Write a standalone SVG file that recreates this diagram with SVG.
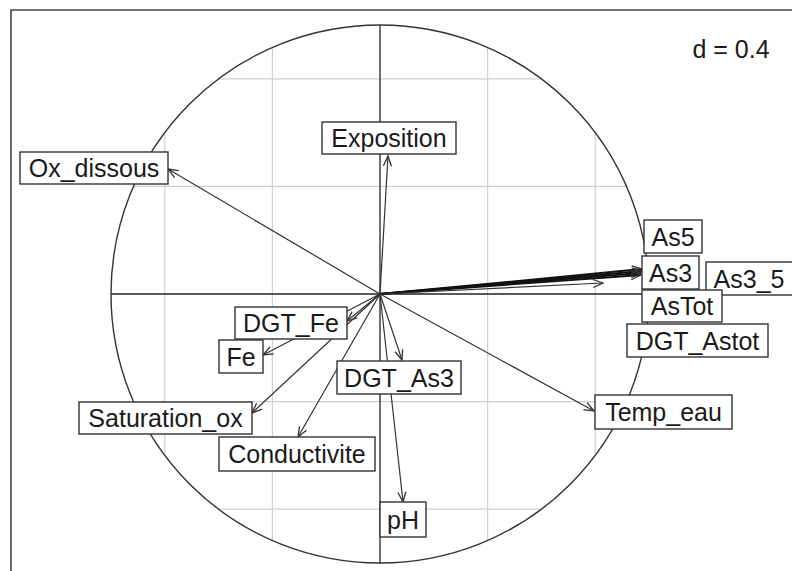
<svg xmlns="http://www.w3.org/2000/svg" width="792" height="571" viewBox="0 0 792 571">
<style>
.grid{stroke:#d0d0d0;stroke-width:1.2;fill:none}
.axis{stroke:#222;stroke-width:1.3;fill:none}
.circ{stroke:#333;stroke-width:1.4;fill:none}
.arr{stroke:#333;stroke-width:1.2;fill:none;marker-end:url(#ah)}
.arr.thick{stroke:#111;stroke-width:1.8}
.box{fill:#fff;stroke:#333;stroke-width:1.4}
text{font-family:"Liberation Sans",Arial,sans-serif;font-size:25px;fill:#1a1a1a;text-anchor:middle}
</style>
<defs>
<marker id="ah" markerUnits="userSpaceOnUse" markerWidth="14" markerHeight="12" refX="11" refY="5" orient="auto" viewBox="0 0 14 10">
<path d="M1,1 L11,5 L1,9" fill="none" stroke="#333" stroke-width="1.3"/>
</marker>
</defs>
<rect width="792" height="571" fill="#fff"/>
<path d="M11,571 V10 H792" fill="none" stroke="#444" stroke-width="1.6"/>
<g id="grid">
<line class="grid" x1="272.4" y1="47.5" x2="272.4" y2="540.5"/>
<line class="grid" x1="487.6" y1="47.5" x2="487.6" y2="540.5"/>
<line class="grid" x1="164.8" y1="132.6" x2="164.8" y2="455.4"/>
<line class="grid" x1="595.2" y1="132.6" x2="595.2" y2="455.4"/>
<line class="grid" x1="133.5" y1="186.4" x2="626.5" y2="186.4"/>
<line class="grid" x1="133.5" y1="401.6" x2="626.5" y2="401.6"/>
<line class="grid" x1="218.6" y1="78.8" x2="541.4" y2="78.8"/>
<line class="grid" x1="218.6" y1="509.2" x2="541.4" y2="509.2"/>
</g>
<g id="axes">
<line class="axis" x1="111" y1="294" x2="649" y2="294"/>
<line class="axis" x1="380" y1="25" x2="380" y2="563"/>
<circle class="circ" cx="380" cy="294" r="269"/>
</g>
<text x="731" y="58">d = 0.4</text>
<g id="connectors">
<line class="arr" x1="380" y1="294" x2="388" y2="156"/>
<line class="arr" x1="380" y1="294" x2="168" y2="169"/>
<line class="arr thick" x1="380" y1="294" x2="642" y2="269"/>
<line class="arr thick" x1="380" y1="294" x2="642" y2="271"/>
<line class="arr thick" x1="380" y1="294" x2="641" y2="273"/>
<line class="arr thick" x1="380" y1="294" x2="641" y2="275"/>
<line class="arr" x1="380" y1="294" x2="603" y2="283"/>
<line class="arr" x1="380" y1="294" x2="347" y2="321"/>
<line class="arr" x1="380" y1="294" x2="263" y2="355"/>
<line class="arr" x1="380" y1="294" x2="252" y2="413"/>
<line class="arr" x1="380" y1="294" x2="298" y2="437"/>
<line class="arr" x1="380" y1="294" x2="402" y2="360"/>
<line class="arr" x1="380" y1="294" x2="403" y2="502"/>
<line class="arr" x1="380" y1="294" x2="594" y2="411"/>
</g>
<g id="n-exposition"><rect class="box" x="322" y="122" width="134" height="32"/><text x="389" y="147">Exposition</text></g>
<g id="n-ox_dissous"><rect class="box" x="20" y="152" width="148" height="32"/><text x="94" y="177">Ox_dissous</text></g>
<g id="n-as5"><rect class="box" x="644" y="220" width="58" height="33"/><text x="673" y="246">As5</text></g>
<g id="n-as3"><rect class="box" x="642" y="256" width="57" height="33"/><text x="670.5" y="282">As3</text></g>
<g id="n-as3_5"><rect class="box" x="706" y="262" width="90" height="33"/><text x="749" y="288">As3_5</text></g>
<g id="n-astot"><rect class="box" x="642" y="290" width="80" height="32"/><text x="682" y="315">AsTot</text></g>
<g id="n-dgt_astot"><rect class="box" x="627" y="324" width="141" height="33"/><text x="697.5" y="350">DGT_Astot</text></g>
<g id="n-dgt_fe"><rect class="box" x="235" y="307" width="112" height="32"/><text x="291" y="332">DGT_Fe</text></g>
<g id="n-fe"><rect class="box" x="219" y="340" width="44" height="33"/><text x="241" y="366">Fe</text></g>
<g id="n-dgt_as3"><rect class="box" x="337" y="361" width="124" height="33"/><text x="399" y="387">DGT_As3</text></g>
<g id="n-saturation_ox"><rect class="box" x="79" y="402" width="173" height="32"/><text x="165.5" y="427">Saturation_ox</text></g>
<g id="n-conductivite"><rect class="box" x="219" y="437" width="156" height="34"/><text x="297" y="463">Conductivite</text></g>
<g id="n-ph"><rect class="box" x="380" y="502" width="46" height="35"/><text x="403" y="529">pH</text></g>
<g id="n-temp_eau"><rect class="box" x="595" y="395" width="137" height="34"/><text x="663.5" y="421">Temp_eau</text></g>
</svg>
